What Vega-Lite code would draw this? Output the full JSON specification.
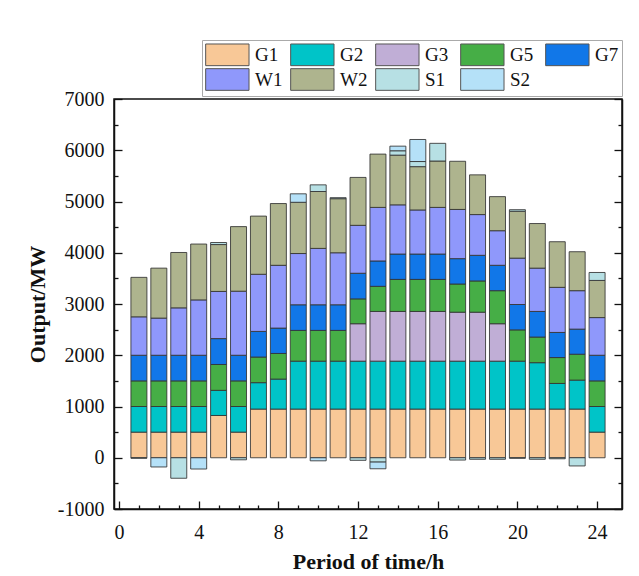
{
  "$schema": "https://vega.github.io/schema/vega-lite/v6.json",
  "width": 508,
  "height": 410,
  "autosize": "none",
  "padding": {"left": 114, "top": 99, "right": 17, "bottom": 67},
  "background": "white",
  "config": {
    "font": "Liberation Serif",
    "view": {"stroke": "#111", "strokeWidth": 1.5},
    "axis": {"grid": false, "labelFont": "Liberation Serif", "titleFont": "Liberation Serif", "labelColor": "#111", "titleColor": "#111", "domainColor": "#111", "domainWidth": 1.5, "tickColor": "#111", "tickWidth": 1.3}
  },
  "data": {"values": [
    {"h":1,"s":"G1","v":500},{"h":1,"s":"G2","v":500},{"h":1,"s":"G5","v":500},{"h":1,"s":"G7","v":500},{"h":1,"s":"W1","v":750},{"h":1,"s":"W2","v":770},{"h":1,"s":"S1","v":-10},
    {"h":2,"s":"G1","v":500},{"h":2,"s":"G2","v":500},{"h":2,"s":"G5","v":500},{"h":2,"s":"G7","v":500},{"h":2,"s":"W1","v":725},{"h":2,"s":"W2","v":975},{"h":2,"s":"S2","v":-180},
    {"h":3,"s":"G1","v":500},{"h":3,"s":"G2","v":500},{"h":3,"s":"G5","v":500},{"h":3,"s":"G7","v":500},{"h":3,"s":"W1","v":925},{"h":3,"s":"W2","v":1080},{"h":3,"s":"S1","v":-400},
    {"h":4,"s":"G1","v":500},{"h":4,"s":"G2","v":500},{"h":4,"s":"G5","v":500},{"h":4,"s":"G7","v":500},{"h":4,"s":"W1","v":1080},{"h":4,"s":"W2","v":1090},{"h":4,"s":"S2","v":-220},
    {"h":5,"s":"G1","v":825},{"h":5,"s":"G2","v":490},{"h":5,"s":"G5","v":505},{"h":5,"s":"G7","v":505},{"h":5,"s":"W1","v":920},{"h":5,"s":"W2","v":915},{"h":5,"s":"S1","v":40},
    {"h":6,"s":"G1","v":500},{"h":6,"s":"G2","v":500},{"h":6,"s":"G5","v":500},{"h":6,"s":"G7","v":500},{"h":6,"s":"W1","v":1250},{"h":6,"s":"W2","v":1260},{"h":6,"s":"S1","v":-40},
    {"h":7,"s":"G1","v":950},{"h":7,"s":"G2","v":515},{"h":7,"s":"G5","v":500},{"h":7,"s":"G7","v":500},{"h":7,"s":"W1","v":1115},{"h":7,"s":"W2","v":1135},
    {"h":8,"s":"G1","v":950},{"h":8,"s":"G2","v":585},{"h":8,"s":"G5","v":500},{"h":8,"s":"G7","v":495},{"h":8,"s":"W1","v":1225},{"h":8,"s":"W2","v":1205},
    {"h":9,"s":"G1","v":950},{"h":9,"s":"G2","v":935},{"h":9,"s":"G5","v":600},{"h":9,"s":"G7","v":500},{"h":9,"s":"W1","v":1000},{"h":9,"s":"W2","v":1000},{"h":9,"s":"S2","v":165},
    {"h":10,"s":"G1","v":950},{"h":10,"s":"G2","v":935},{"h":10,"s":"G5","v":600},{"h":10,"s":"G7","v":500},{"h":10,"s":"W1","v":1100},{"h":10,"s":"W2","v":1110},{"h":10,"s":"S1","v":130},{"h":10,"s":"S2","v":-60},
    {"h":11,"s":"G1","v":950},{"h":11,"s":"G2","v":935},{"h":11,"s":"G5","v":600},{"h":11,"s":"G7","v":500},{"h":11,"s":"W1","v":1015},{"h":11,"s":"W2","v":1055},{"h":11,"s":"S1","v":20},
    {"h":12,"s":"G1","v":950},{"h":12,"s":"G2","v":935},{"h":12,"s":"G3","v":730},{"h":12,"s":"G5","v":485},{"h":12,"s":"G7","v":500},{"h":12,"s":"W1","v":935},{"h":12,"s":"W2","v":935},{"h":12,"s":"S1","v":-50},
    {"h":13,"s":"G1","v":950},{"h":13,"s":"G2","v":935},{"h":13,"s":"G3","v":970},{"h":13,"s":"G5","v":490},{"h":13,"s":"G7","v":495},{"h":13,"s":"W1","v":1045},{"h":13,"s":"W2","v":1040},{"h":13,"s":"S1","v":-85},{"h":13,"s":"S2","v":-130},
    {"h":14,"s":"G1","v":950},{"h":14,"s":"G2","v":935},{"h":14,"s":"G3","v":970},{"h":14,"s":"G5","v":625},{"h":14,"s":"G7","v":495},{"h":14,"s":"W1","v":960},{"h":14,"s":"W2","v":970},{"h":14,"s":"S1","v":85},{"h":14,"s":"S2","v":90},
    {"h":15,"s":"G1","v":950},{"h":15,"s":"G2","v":935},{"h":15,"s":"G3","v":970},{"h":15,"s":"G5","v":625},{"h":15,"s":"G7","v":495},{"h":15,"s":"W1","v":860},{"h":15,"s":"W2","v":845},{"h":15,"s":"S1","v":100},{"h":15,"s":"S2","v":430},
    {"h":16,"s":"G1","v":950},{"h":16,"s":"G2","v":935},{"h":16,"s":"G3","v":970},{"h":16,"s":"G5","v":625},{"h":16,"s":"G7","v":495},{"h":16,"s":"W1","v":910},{"h":16,"s":"W2","v":905},{"h":16,"s":"S1","v":345},
    {"h":17,"s":"G1","v":950},{"h":17,"s":"G2","v":935},{"h":17,"s":"G3","v":955},{"h":17,"s":"G5","v":550},{"h":17,"s":"G7","v":495},{"h":17,"s":"W1","v":960},{"h":17,"s":"W2","v":940},{"h":17,"s":"S1","v":-45},
    {"h":18,"s":"G1","v":950},{"h":18,"s":"G2","v":935},{"h":18,"s":"G3","v":955},{"h":18,"s":"G5","v":610},{"h":18,"s":"G7","v":500},{"h":18,"s":"W1","v":795},{"h":18,"s":"W2","v":775},{"h":18,"s":"S1","v":-30},
    {"h":19,"s":"G1","v":950},{"h":19,"s":"G2","v":935},{"h":19,"s":"G3","v":730},{"h":19,"s":"G5","v":645},{"h":19,"s":"G7","v":495},{"h":19,"s":"W1","v":675},{"h":19,"s":"W2","v":665},{"h":19,"s":"S1","v":-30},
    {"h":20,"s":"G1","v":950},{"h":20,"s":"G2","v":935},{"h":20,"s":"G5","v":610},{"h":20,"s":"G7","v":495},{"h":20,"s":"W1","v":905},{"h":20,"s":"W2","v":915},{"h":20,"s":"S1","v":30},{"h":20,"s":"S2","v":-10},
    {"h":21,"s":"G1","v":950},{"h":21,"s":"G2","v":905},{"h":21,"s":"G5","v":500},{"h":21,"s":"G7","v":500},{"h":21,"s":"W1","v":845},{"h":21,"s":"W2","v":870},{"h":21,"s":"S1","v":-30},
    {"h":22,"s":"G1","v":950},{"h":22,"s":"G2","v":500},{"h":22,"s":"G5","v":505},{"h":22,"s":"G7","v":490},{"h":22,"s":"W1","v":880},{"h":22,"s":"W2","v":890},{"h":22,"s":"S1","v":-20},
    {"h":23,"s":"G1","v":950},{"h":23,"s":"G2","v":565},{"h":23,"s":"G5","v":505},{"h":23,"s":"G7","v":490},{"h":23,"s":"W1","v":750},{"h":23,"s":"W2","v":760},{"h":23,"s":"S1","v":-160},
    {"h":24,"s":"G1","v":500},{"h":24,"s":"G2","v":500},{"h":24,"s":"G5","v":500},{"h":24,"s":"G7","v":500},{"h":24,"s":"W1","v":735},{"h":24,"s":"W2","v":725},{"h":24,"s":"S1","v":155}
  ]},
  "transform": [
    {"calculate": "indexof(['G1','G2','G3','G5','G7','W1','W2','S1','S2'], datum.s)", "as": "o"}
  ],
  "encoding": {
    "x": {
      "field": "h", "type": "quantitative",
      "scale": {"domain": [0, 25], "nice": false, "zero": false},
      "axis": {
        "title": "Period of time/h", "titleFont": "Liberation Serif", "titleFontSize": 22, "titleFontWeight": "bold", "titlePadding": 5,
        "values": [0,1,2,3,4,5,6,7,8,9,10,11,12,13,14,15,16,17,18,19,20,21,22,23,24],
        "labelExpr": "datum.value % 4 === 0 ? '' + datum.value : ''",
        "labelFont": "Liberation Serif", "labelFontSize": 20, "labelPadding": 21, "labelFlush": false, "labelOverlap": false,
        "tickSize": {"condition": {"test": "datum.value % 4 === 0", "value": -8}, "value": -4}
      }
    }
  },
  "layer": [
    {
      "mark": {"type": "bar", "size": 16, "stroke": "#333", "strokeWidth": 1, "strokeOpacity": 0.85, "opacity": 1},
      "encoding": {
        "y": {
          "field": "v", "type": "quantitative", "stack": "zero",
          "scale": {"domain": [-1000, 7000], "nice": false},
          "axis": {
            "title": "Output/MW", "titleFont": "Liberation Serif", "titleFontSize": 22, "titleFontWeight": "bold", "titlePadding": 8,
            "values": [-1000,-500,0,500,1000,1500,2000,2500,3000,3500,4000,4500,5000,5500,6000,6500,7000],
            "labelExpr": "datum.value % 1000 === 0 ? '' + datum.value : ''",
            "labelFont": "Liberation Serif", "labelFontSize": 20, "labelPadding": 18, "labelFlush": false, "labelOverlap": false,
            "tickSize": {"condition": {"test": "datum.value % 1000 === 0", "value": -8}, "value": -4}
          }
        },
        "color": {
          "field": "s", "type": "nominal",
          "sort": ["G1","G2","G3","G5","G7","W1","W2","S1","S2"],
          "scale": {
            "domain": ["G1","G2","G3","G5","G7","W1","W2","S1","S2"],
            "range": ["#F8C897","#00C4C8","#C0AED6","#46AE46","#1177E8","#8F98FB","#AEB48E","#B7E0E4","#B5E1F8"]
          },
          "legend": {
            "title": null, "orient": "none", "legendX": 88, "legendY": -59,
            "direction": "horizontal", "columns": 5, "gridAlign": "all",
            "columnPadding": 5, "rowPadding": -2, "padding": 3,
            "symbolType": "M-1,-1H3V1H-1Z", "symbolSize": 470,
            "symbolStrokeColor": "#555", "symbolStrokeWidth": 1, "symbolOpacity": 1,
            "labelFont": "Liberation Serif", "labelFontSize": 19, "labelColor": "#111", "labelOffset": 27,
            "strokeColor": "#aaa", "fillColor": "white"
          }
        },
        "order": {"field": "o", "type": "quantitative"}
      }
    },
    {
      "mark": {"type": "bar", "size": 16, "opacity": 0},
      "encoding": {
        "y": {
          "field": "v", "type": "quantitative", "stack": "zero",
          "axis": {
            "orient": "right", "title": null, "labels": false,
            "values": [-1000,-500,0,500,1000,1500,2000,2500,3000,3500,4000,4500,5000,5500,6000,6500,7000],
            "tickSize": {"condition": {"test": "datum.value % 1000 === 0", "value": -8}, "value": -4}
          }
        },
        "order": {"field": "o", "type": "quantitative"}
      }
    }
  ],
  "resolve": {"axis": {"y": "independent"}}
}
